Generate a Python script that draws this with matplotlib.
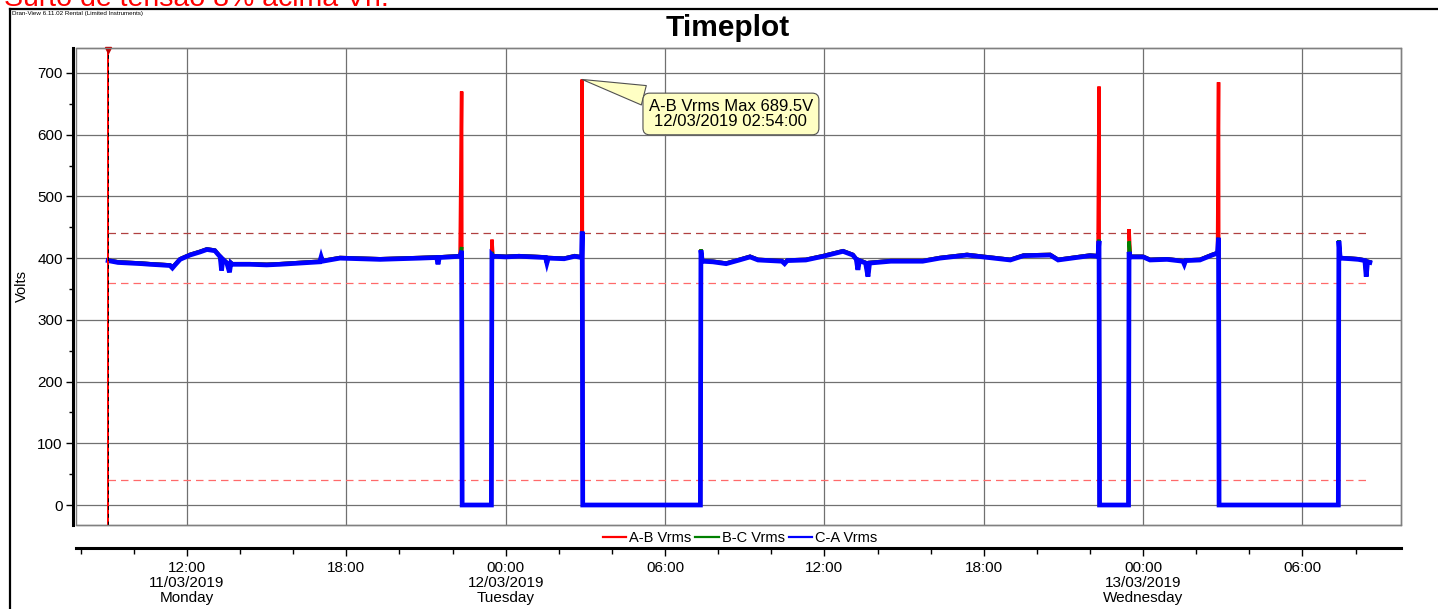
import matplotlib.pyplot as plt
from matplotlib.lines import Line2D
from matplotlib.patches import Rectangle

plt.rcParams['font.family'] = ['Liberation Sans', 'DejaVu Sans']

# horas desde 11/03/2019 00:00
times = [9.03, 9.4, 9.85, 10.3, 10.6, 11.0, 11.36, 11.45, 11.55, 11.74,
         12.11, 12.49, 12.75, 13.05, 13.25, 13.3, 13.35, 13.5, 13.6, 13.65,
         13.7, 14.37, 15.0, 15.5, 16.25, 17.0, 17.05, 17.1, 17.76, 18.51,
         19.27, 20.0, 20.77, 21.4, 21.45, 21.5, 21.9, 22.28, 22.34, 22.36,
         23.46, 23.48, 23.52, 24.0, 24.5, 25.0, 25.5, 25.55, 25.6, 26.2,
         26.6, 26.86, 26.88, 26.9, 31.33, 31.35, 31.4, 31.8, 32.3, 32.8,
         33.2, 33.5, 34.4, 34.5, 34.6, 35.3, 35.95, 36.7, 37.07, 37.2,
         37.26, 37.32, 37.55, 37.64, 37.7, 38.5, 39.7, 40.35, 41.37, 41.97,
         43.0, 43.5, 44.5, 44.8, 46.0, 46.3, 46.34, 46.36, 47.45, 47.47,
         47.52, 48.0, 48.26, 48.9, 49.5, 49.55, 49.6, 50.14, 50.6, 50.8,
         50.84, 50.86, 55.35, 55.37, 55.42, 55.8, 56.1, 56.35, 56.4, 56.45,
         56.54]

ca_vrms = [396, 393, 392, 391, 390, 389, 388, 384, 389, 398,
           405, 410, 414, 412, 402, 380, 398, 392, 377, 392,
           390, 390, 389, 390, 392, 394, 402, 395, 400, 399,
           398, 399, 400, 401, 390, 401, 402, 403, 412, 0,
           0, 405, 403, 402, 403, 402, 401, 392, 400, 399,
           403, 401, 443, 0, 0, 413, 395, 394, 391, 397,
           402, 397, 395, 391, 396, 397, 403, 411, 405, 398,
           381, 396, 392, 370, 392, 395, 395, 400, 405, 402,
           397, 404, 405, 397, 404, 403, 428, 0, 0, 410,
           402, 402, 397, 398, 395, 390, 396, 397, 405, 408,
           433, 0, 0, 428, 400, 399, 398, 396, 370, 394,
           393]

# picos de A-B e B-C (o resto segue C-A)
ab_peaks = {22.34: 670, 23.48: 430, 26.88: 689.5, 46.34: 678, 47.47: 447, 50.84: 685}
bc_peaks = {22.34: 418, 23.48: 410, 26.88: 443, 46.34: 430, 47.47: 427, 50.84: 433}

ab_vrms = [ab_peaks.get(t, v + 1 if v > 0 else 0) for t, v in zip(times, ca_vrms)]
bc_vrms = [bc_peaks.get(t, v + 1 if v > 0 else 0) for t, v in zip(times, ca_vrms)]

limits = [440, 360, 40]
limit_colors = ['#b04040', '#ff6a6a', '#ff6a6a']

major_ticks = [12, 18, 24, 30, 36, 42, 48, 54]
major_labels = ['12:00\n11/03/2019\nMonday', '18:00', '00:00\n12/03/2019\nTuesday', '06:00',
                '12:00', '18:00', '00:00\n13/03/2019\nWednesday', '06:00']
minor_ticks = list(range(8, 58, 2))

series_names = ['A-B Vrms', 'B-C Vrms', 'C-A Vrms']
series_colors = ['#ff0000', '#008000', '#0000ff']

W, H = 1438, 609
fig = plt.figure(figsize=(W / 100, H / 100), dpi=100)

ax = fig.add_axes([76 / W, 1 - 525 / H, (1401 - 76) / W, (525 - 48) / H])
ax.set_xlim(7.82, 57.71)
ax.set_ylim(-32.4, 740.5)

for vals, c, lw in zip([ab_vrms, bc_vrms, ca_vrms], series_colors, [2.5, 2.5, 3.4]):
    ax.plot(times, vals, color=c, lw=lw, solid_joinstyle='miter')

for lim, c in zip(limits, limit_colors):
    ax.hlines(lim, times[0], times[-1], colors=c, lw=0.9, linestyles=(0, (6, 4)), zorder=1)

# marcador inicial
ax.axvline(times[0], color='red', lw=1.4, zorder=4)
ax.axvline(times[0], color='black', lw=0.7, ls=(0, (4, 4)), zorder=5)
ax.plot([times[0]], [0.995], marker='v', color='#c00000', ms=4.5,
        transform=ax.get_xaxis_transform(), clip_on=False, zorder=6)

ax.set_xticks(major_ticks)
ax.set_yticks(range(0, 701, 100))
ax.set_yticks(range(50, 701, 100), minor=True)
ax.tick_params(axis='x', length=0, labelbottom=False)
ax.tick_params(axis='y', which='major', direction='out', length=5, width=1, labelsize=11, pad=2)
ax.tick_params(axis='y', which='minor', direction='out', length=3, width=1)
ax.grid(True, which='major', color='#707070', lw=0.9)
ax.set_axisbelow(True)
ax.set_ylabel('Volts', fontsize=10.5, labelpad=6)

for s in ['top', 'right', 'bottom']:
    ax.spines[s].set_color('#808080')
    ax.spines[s].set_linewidth(1)
ax.spines['left'].set_position(('outward', 2.5))
ax.spines['left'].set_linewidth(2.2)
ax.spines['left'].set_color('black')
ax.add_patch(Rectangle((0, 0), 1, 1, transform=ax.transAxes, fill=False,
                       ec='#808080', lw=1, clip_on=False, zorder=6))

ax.annotate('A-B Vrms Max 689.5V\n12/03/2019 02:54:00', xy=(26.88, 689.5),
            xytext=(32.48, 633.6), ha='center', va='center', fontsize=12,
            linespacing=1.0,
            bbox=dict(boxstyle='round,pad=0.35,rounding_size=0.4', fc='#ffffc4', ec='#505050', lw=0.8),
            arrowprops=dict(arrowstyle='wedge,tail_width=1.2', fc='#ffffc4', ec='#505050',
                            lw=0.8, relpos=(0.2, 0.8), shrinkA=0, shrinkB=0),
            zorder=10)

# eixo do tempo separado
axx = fig.add_axes([76 / W, 1 - 548 / H, (1401 - 76) / W, 0.0001])
axx.set_xlim(ax.get_xlim())
axx.set_yticks([])
for s in ['top', 'right', 'left']:
    axx.spines[s].set_visible(False)
axx.spines['bottom'].set_linewidth(2.2)
axx.set_xticks(major_ticks)
axx.set_xticklabels(major_labels, fontsize=11, linespacing=1.1)
axx.set_xticks(minor_ticks, minor=True)
axx.tick_params(axis='x', which='major', direction='out', length=6, width=1, pad=3)
axx.tick_params(axis='x', which='minor', direction='out', length=4, width=1)
axx.patch.set_visible(False)

handles = [Line2D([], [], color=c, lw=1.6) for c in series_colors]
fig.legend(handles, series_names, loc='center', bbox_to_anchor=(740 / W, 1 - 538 / H), ncol=3,
           frameon=False, fontsize=10.5, handlelength=1.6, handletextpad=0.2, columnspacing=0.3,
           borderpad=0, borderaxespad=0)

fig.text(728 / W, 1 - 28 / H, 'Timeplot', ha='center', va='center', fontsize=21.5, fontweight='bold')
fig.text(12 / W, 1 - 14 / H, 'Dran-View 6.11.02 Rental (Limited Instruments)', fontsize=4.5, va='center')
fig.text(4 / W, 1 - 6 / H, 'Surto de tensão 8% acima Vn.', color='red', fontsize=20.5, va='baseline')

fig.add_artist(Line2D([10 / W, 1], [1 - 9 / H, 1 - 9 / H], color='black', lw=1.6))
fig.add_artist(Line2D([10 / W, 10 / W], [0, 1 - 9 / H], color='black', lw=1.6))

fig.savefig('out.png', dpi=100)
